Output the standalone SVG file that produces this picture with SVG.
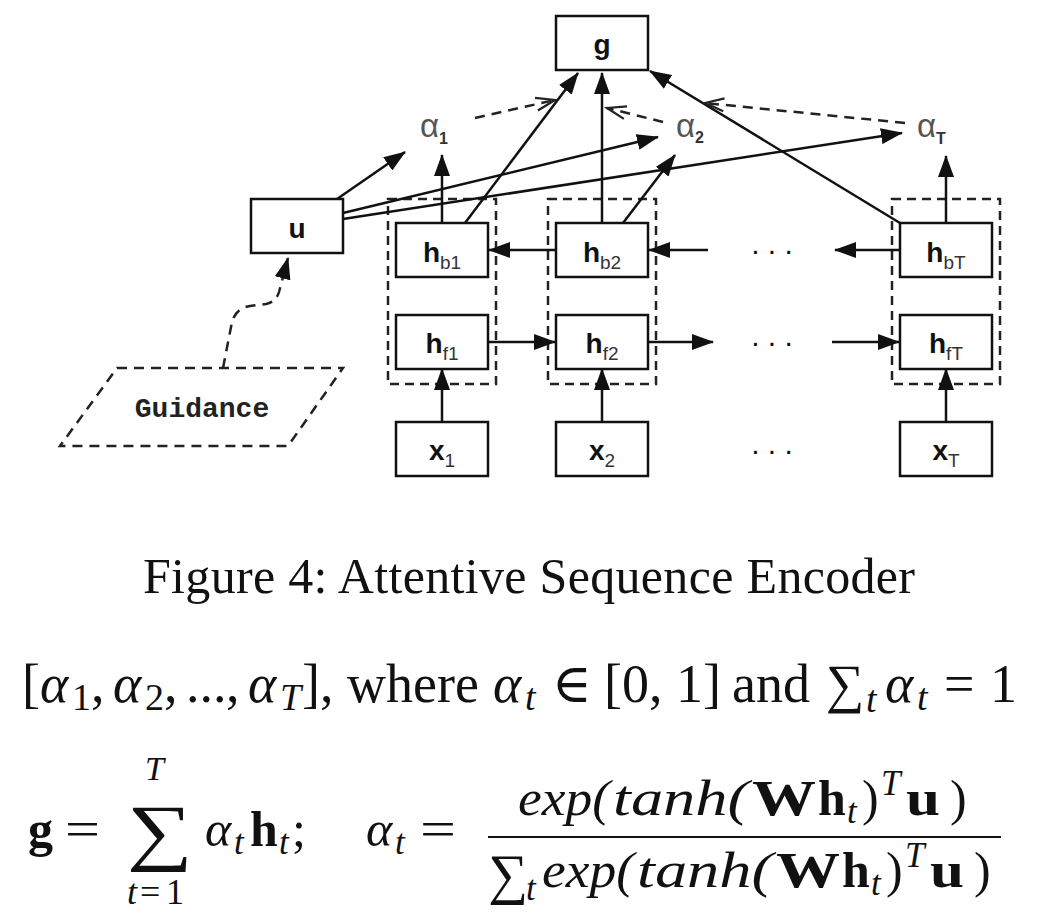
<svg xmlns="http://www.w3.org/2000/svg" width="1058" height="917" viewBox="0 0 1058 917">
<defs>
<style>
.box{fill:#fff;stroke:#111;stroke-width:2.5}
.dbox{fill:none;stroke:#222;stroke-width:2.5;stroke-dasharray:9 6}
.edge{fill:none;stroke:#111;stroke-width:2.5}
.dash{fill:none;stroke:#222;stroke-width:2.5;stroke-dasharray:10 7}
.lbl{font-family:"Liberation Sans",Arial,sans-serif;font-weight:bold;font-size:28px;fill:#111}
.sub{font-weight:normal;font-size:19px;fill:#333}
.al{font-family:"Liberation Sans",Arial,sans-serif;font-size:33px;fill:#555}
.asub{font-size:16px;font-weight:bold;fill:#333}
.mono{font-family:"Liberation Mono","Courier New",monospace;font-weight:bold;font-size:28px;fill:#222}
.dots{font-family:"Liberation Sans",Arial,sans-serif;font-size:30px;fill:#111}
.m{font-family:"Liberation Serif","Times New Roman","DejaVu Serif",serif;fill:#111}
.i{font-style:italic}
.b{font-weight:bold}
</style>
<marker id="arr" markerUnits="userSpaceOnUse" markerWidth="24" markerHeight="16" refX="21" refY="8" orient="auto">
<path d="M0,0 L22,8 L0,16 z" fill="#111"/>
</marker>
<marker id="open" markerUnits="userSpaceOnUse" markerWidth="24" markerHeight="16" refX="21" refY="8" orient="auto">
<path d="M2,1.5 L21,8 L2,14.5" fill="none" stroke="#222" stroke-width="2.2"/>
</marker>
</defs>
<rect width="1058" height="917" fill="#fff"/>

<g id="columns">
<rect class="dbox" x="388" y="199" width="108" height="185"/>
<rect class="dbox" x="548" y="199" width="108" height="185"/>
<rect class="dbox" x="892" y="199" width="108" height="185"/>
</g>

<g id="connectors">
<line class="edge" x1="465" y1="223" x2="578" y2="73" marker-end="url(#arr)"/>
<line class="edge" x1="602" y1="223" x2="602" y2="73" marker-end="url(#arr)"/>
<line class="edge" x1="900" y1="223" x2="650" y2="71" marker-end="url(#arr)"/>
<line class="edge" x1="442" y1="223" x2="442" y2="155" marker-end="url(#arr)"/>
<line class="edge" x1="623" y1="223" x2="675" y2="155" marker-end="url(#arr)"/>
<line class="edge" x1="946" y1="223" x2="946" y2="156" marker-end="url(#arr)"/>
<line class="edge" x1="337" y1="199" x2="405" y2="152" marker-end="url(#arr)"/>
<line class="edge" x1="343" y1="213" x2="658" y2="137" marker-end="url(#arr)"/>
<line class="edge" x1="343" y1="219" x2="902" y2="133" marker-end="url(#arr)"/>
<line class="dash" x1="475" y1="118" x2="555" y2="100" marker-end="url(#open)"/>
<line class="dash" x1="663" y1="122" x2="607" y2="108" marker-end="url(#open)"/>
<line class="dash" x1="905" y1="123" x2="705" y2="103" marker-end="url(#open)"/>
<line class="edge" x1="556" y1="250" x2="489" y2="250" marker-end="url(#arr)"/>
<line class="edge" x1="708" y1="250" x2="649" y2="250" marker-end="url(#arr)"/>
<line class="edge" x1="900" y1="250" x2="835" y2="250" marker-end="url(#arr)"/>
<line class="edge" x1="488" y1="342" x2="555" y2="342" marker-end="url(#arr)"/>
<line class="edge" x1="648" y1="342" x2="713" y2="342" marker-end="url(#arr)"/>
<line class="edge" x1="832" y1="342" x2="899" y2="342" marker-end="url(#arr)"/>
<line class="edge" x1="442" y1="422" x2="442" y2="369" marker-end="url(#arr)"/>
<line class="edge" x1="602" y1="422" x2="602" y2="369" marker-end="url(#arr)"/>
<line class="edge" x1="946" y1="422" x2="946" y2="369" marker-end="url(#arr)"/>
<path class="dash" d="M223,368 L232,322 Q236,308 250,306 L266,304 Q276,302 279,292 L288,258" marker-end="url(#arr)"/>
</g>

<g id="g"><rect class="box" x="556" y="16" width="92" height="54"/><text class="lbl" x="602" y="54" text-anchor="middle">g</text></g>
<g id="u"><rect class="box" x="251" y="199" width="92" height="54"/><text class="lbl" x="297" y="238" text-anchor="middle">u</text></g>
<g id="guidance"><polygon class="dash" points="117,368 343,368 288,446 60,446"/><text class="mono" x="202" y="417" text-anchor="middle">Guidance</text></g>

<g id="alpha1"><text class="al" x="420" y="137">α<tspan class="asub" dy="7">1</tspan></text></g>
<g id="alpha2"><text class="al" x="676" y="137">α<tspan class="asub" dy="6">2</tspan></text></g>
<g id="alphaT"><text class="al" x="917" y="137">α<tspan class="asub" dy="7">T</tspan></text></g>

<g id="hb1"><rect class="box" x="396" y="223" width="92" height="54"/><text class="lbl" x="442" y="262" text-anchor="middle">h<tspan class="sub" dy="7">b1</tspan></text></g>
<g id="hf1"><rect class="box" x="396" y="315" width="92" height="54"/><text class="lbl" x="442" y="353" text-anchor="middle">h<tspan class="sub" dy="7">f1</tspan></text></g>
<g id="x1"><rect class="box" x="396" y="422" width="92" height="54"/><text class="lbl" x="442" y="460" text-anchor="middle">x<tspan class="sub" dy="7">1</tspan></text></g>

<g id="hb2"><rect class="box" x="556" y="223" width="92" height="54"/><text class="lbl" x="602" y="262" text-anchor="middle">h<tspan class="sub" dy="7">b2</tspan></text></g>
<g id="hf2"><rect class="box" x="556" y="315" width="92" height="54"/><text class="lbl" x="602" y="353" text-anchor="middle">h<tspan class="sub" dy="7">f2</tspan></text></g>
<g id="x2"><rect class="box" x="556" y="422" width="92" height="54"/><text class="lbl" x="602" y="460" text-anchor="middle">x<tspan class="sub" dy="7">2</tspan></text></g>

<g id="hbT"><rect class="box" x="900" y="223" width="92" height="54"/><text class="lbl" x="946" y="262" text-anchor="middle">h<tspan class="sub" dy="7">bT</tspan></text></g>
<g id="hfT"><rect class="box" x="900" y="315" width="92" height="54"/><text class="lbl" x="946" y="353" text-anchor="middle">h<tspan class="sub" dy="7">fT</tspan></text></g>
<g id="xT"><rect class="box" x="900" y="422" width="92" height="54"/><text class="lbl" x="946" y="460" text-anchor="middle">x<tspan class="sub" dy="7">T</tspan></text></g>

<g id="dots">
<text class="dots" x="772" y="254" text-anchor="middle">. . .</text>
<text class="dots" x="772" y="346" text-anchor="middle">. . .</text>
<text class="dots" x="772" y="454" text-anchor="middle">. . .</text>
</g>

<g id="caption"><text class="m" x="143" y="593" font-size="50" textLength="772">Figure 4: Attentive Sequence Encoder</text></g>

<g id="formula1" class="m" font-size="54">
<text y="702"><tspan x="22">[</tspan><tspan x="40" class="i">α</tspan><tspan x="72" y="710" font-size="38">1</tspan><tspan x="91" y="702">,</tspan><tspan x="113" class="i">α</tspan><tspan x="145" y="710" font-size="38">2</tspan><tspan x="164" y="702">,</tspan><tspan x="186">...</tspan><tspan x="226">,</tspan><tspan x="248" class="i">α</tspan><tspan x="280" y="710" font-size="38" class="i">T</tspan><tspan x="302" y="702">],</tspan><tspan x="347">where</tspan><tspan x="493" class="i">α</tspan><tspan x="525" y="710" font-size="38" class="i">t</tspan><tspan x="552" y="702">∈</tspan><tspan x="604">[0, 1]</tspan><tspan x="732">and</tspan><tspan x="826">∑</tspan><tspan x="866" y="712" font-size="38" class="i">t</tspan><tspan x="885" y="702" class="i">α</tspan><tspan x="917" y="710" font-size="38" class="i">t</tspan><tspan x="944" y="702">=</tspan><tspan x="990">1</tspan></text>
</g>

<g id="formula2" class="m" font-size="50">
<text y="846"><tspan x="28" class="b">g</tspan><tspan x="65" textLength="35" lengthAdjust="spacingAndGlyphs">=</tspan></text>
<text x="127" y="856" font-size="74" textLength="66" lengthAdjust="spacingAndGlyphs">∑</text>
<text x="145" y="780" font-size="34" class="i">T</text>
<text y="904" font-size="36"><tspan x="127" class="i">t</tspan><tspan x="140">=</tspan><tspan x="166">1</tspan></text>
<text y="846"><tspan x="205" class="i">α</tspan><tspan x="234" y="854" font-size="35" class="i">t</tspan><tspan x="250" y="846" class="b">h</tspan><tspan x="279" y="854" font-size="35" class="i">t</tspan><tspan x="292" y="846">;</tspan><tspan x="366" class="i">α</tspan><tspan x="395" y="854" font-size="35" class="i">t</tspan><tspan x="420" y="846" textLength="36" lengthAdjust="spacingAndGlyphs">=</tspan></text>
<line x1="488" y1="837" x2="1001" y2="837" stroke="#111" stroke-width="2.2"/>
<text y="815"><tspan x="518" class="i" textLength="92" lengthAdjust="spacingAndGlyphs">exp(</tspan><tspan x="613" class="i" textLength="136" lengthAdjust="spacingAndGlyphs">tanh(</tspan><tspan x="752" class="b" textLength="64" lengthAdjust="spacingAndGlyphs">W</tspan><tspan x="818" class="b">h</tspan><tspan x="847" y="823" font-size="35" class="i">t</tspan><tspan x="862" y="815">)</tspan><tspan x="881" y="795" font-size="35" class="i">T</tspan><tspan x="906" y="815" class="b" textLength="34" lengthAdjust="spacingAndGlyphs">u</tspan><tspan x="950">)</tspan></text>
<text y="887"><tspan x="488" font-size="56" y="893">∑</tspan><tspan x="526" y="900" font-size="35" class="i">t</tspan><tspan x="542" y="887" class="i" textLength="92" lengthAdjust="spacingAndGlyphs">exp(</tspan><tspan x="637" class="i" textLength="136" lengthAdjust="spacingAndGlyphs">tanh(</tspan><tspan x="776" class="b" textLength="64" lengthAdjust="spacingAndGlyphs">W</tspan><tspan x="842" class="b">h</tspan><tspan x="871" y="895" font-size="35" class="i">t</tspan><tspan x="886" y="887">)</tspan><tspan x="905" y="867" font-size="35" class="i">T</tspan><tspan x="930" y="887" class="b" textLength="34" lengthAdjust="spacingAndGlyphs">u</tspan><tspan x="974">)</tspan></text>
</g>
</svg>
